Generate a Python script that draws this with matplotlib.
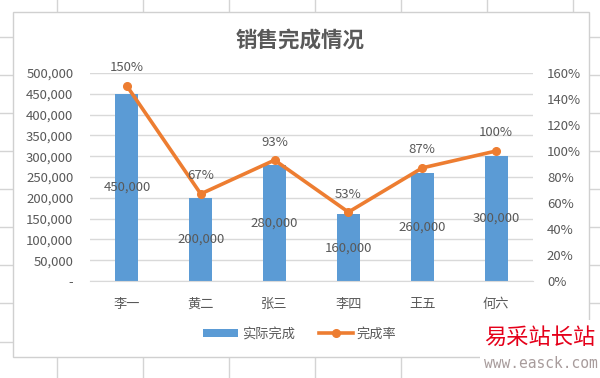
import matplotlib
matplotlib.use("Agg")
import matplotlib.pyplot as plt
from matplotlib.patches import Rectangle, Patch
from matplotlib.lines import Line2D
from matplotlib.ticker import FuncFormatter

plt.rcParams['font.family'] = ['Noto Sans CJK SC', 'DejaVu Sans']

names = ["李一", "黄二", "张三", "李四", "王五", "何六"]
actual = [450000, 200000, 280000, 160000, 260000, 300000]
rate = [1.50, 0.67, 0.93, 0.53, 0.87, 1.00]
rate_labels = ["150%", "67%", "93%", "53%", "87%", "100%"]
left_ticks = [0, 50000, 100000, 150000, 200000, 250000, 300000, 350000, 400000, 450000, 500000]
right_ticks = [0, 0.2, 0.4, 0.6, 0.8, 1.0, 1.2, 1.4, 1.6]

W, H = 600, 378
blue = "#5B9BD5"
orange = "#ED7D31"
txt = "#595959"

fig = plt.figure(figsize=(6, 3.78), dpi=100)

# spreadsheet cells behind the chart
bg = fig.add_axes([0, 0, 1, 1])
bg.set_xlim(0, W)
bg.set_ylim(H, 0)
bg.axis("off")
for x in [57, 143, 229, 315, 401, 487, 573]:
    bg.plot([x, x], [0, H], color="#D4D4D4", lw=1, zorder=1)
for y in [37, 75, 113, 151, 189, 227, 265, 303, 342]:
    bg.plot([0, W], [y, y], color="#D4D4D4", lw=1, zorder=1)
bg.add_patch(Rectangle((13, 12), 576, 345, facecolor="white", edgecolor="#D0D0D0", lw=1, zorder=2))
bg.text(300, 40, "销售完成情况", ha="center", va="center", fontsize=15.5, fontweight="bold",
        color=txt, zorder=3)

# watermark
bg.add_patch(Rectangle((480, 320), 120, 58, facecolor="white", edgecolor="none", zorder=5))
bg.text(540, 337, "易采站长站", ha="center", va="center", fontsize=16, fontweight="light",
        color="#E5001A", zorder=6)
bg.text(541, 363, "www.easck.com", ha="center", va="center", fontsize=10.5,
        family="DejaVu Sans Mono", color="#A89C9C", zorder=6)

ax = fig.add_axes([90 / W, 1 - 281 / H, (533 - 90) / W, (281 - 73) / H])
ax.set_facecolor("none")
pos = list(range(len(names)))
ax.bar(pos, actual, width=0.31, color=blue, zorder=2)
ax.set_xlim(-0.5, len(names) - 0.5)
ax.set_ylim(0, 500000)
ax.set_yticks(left_ticks)
ax.yaxis.set_major_formatter(FuncFormatter(lambda v, p: "-" if v == 0 else f"{int(v):,}"))
ax.set_xticks(pos)
ax.set_xticklabels(names)
ax.grid(axis="y", color="#D9D9D9", lw=1, zorder=0)
for s in ["top", "right", "left"]:
    ax.spines[s].set_visible(False)
ax.spines["bottom"].set_color("#D9D9D9")
ax.tick_params(length=0, colors=txt, labelsize=9.5)
ax.tick_params(axis="x", pad=12)
ax.tick_params(axis="y", pad=12)
for i, v in enumerate(actual):
    ax.text(i, v / 2, f"{v:,}", ha="center", va="center", fontsize=9.5, color=txt, zorder=4)

ax2 = ax.twinx()
ax2.plot(pos, rate, color=orange, lw=2.6, marker="o", markersize=5.5, zorder=3, solid_capstyle="round")
ax2.set_ylim(0, 1.6)
ax2.set_yticks(right_ticks)
ax2.set_yticklabels([f"{int(round(t * 100))}%" for t in right_ticks])
for s in ax2.spines.values():
    s.set_visible(False)
ax2.tick_params(length=0, colors=txt, labelsize=9.5, pad=10)
for i, v in enumerate(rate):
    ax2.annotate(rate_labels[i], (i, v), xytext=(0, 13), textcoords="offset points",
                 ha="center", va="center", fontsize=9.5, color=txt)

handles = [Patch(facecolor=blue, edgecolor="none"),
           Line2D([0], [0], color=orange, lw=2.6, marker="o", markersize=5.5)]
fig.legend(handles, ["实际完成", "完成率"], loc="center", bbox_to_anchor=(300 / W, 1 - 334 / H),
           ncol=2, frameon=False, fontsize=9.5, labelcolor=txt, handlelength=2.6,
           handleheight=0.6, columnspacing=1.8, handletextpad=0.3)

fig.savefig("out.png", dpi=100)
